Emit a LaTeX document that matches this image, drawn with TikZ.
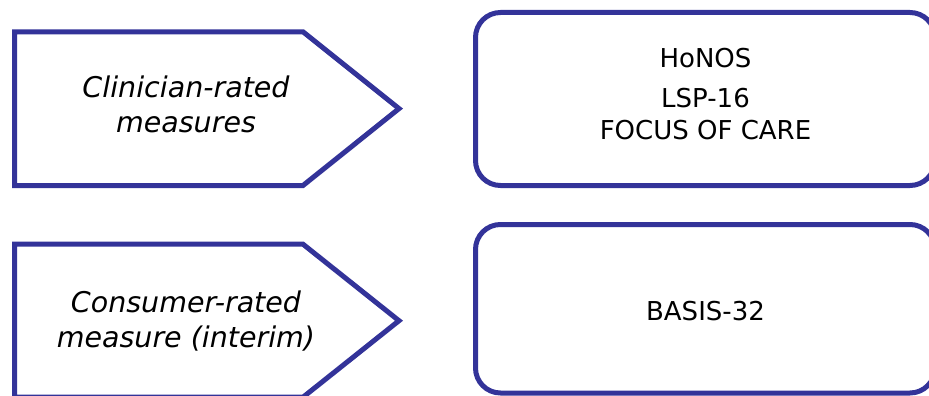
\documentclass[tikz,border=0pt]{standalone}
\usepackage{fontspec}
\setmainfont{DejaVu Sans}
\definecolor{frameblue}{HTML}{333399}
\begin{document}
\begin{tikzpicture}[x=1pt,y=-1pt,
  frame/.style={draw=frameblue, line width=5pt, fill=white, line join=miter},
  roundbox/.style={frame, rounded corners=25pt},
  catlabel/.style={font=\fontsize{28.5}{35}\selectfont\itshape, align=center, anchor=base, inner sep=0pt},
  itemlabel/.style={font=\fontsize{26}{32}\selectfont, anchor=base, inner sep=0pt}]
\useasboundingbox (0,0) rectangle (929,396);
\clip (0,0) rectangle (929,396);

% category arrows
\draw[frame] (14.5,31.8) -- (303,31.8) -- (399,108.6) -- (303,185.5) -- (14.5,185.5) -- cycle;
\draw[frame] (14.5,244.2) -- (303,244.2) -- (399,320.7) -- (303,397.2) -- (14.5,397.2) -- cycle;

% instrument boxes
\draw[roundbox] (475.5,12.5) rectangle (935,185.5);
\draw[roundbox] (475.5,224.5) rectangle (935,393);

% category labels (base anchor sits on the last line)
\node[catlabel] (clin) at (186,132) {Clinician-rated\\measures};
\node[catlabel] (cons) at (186,347) {Consumer-rated\\measure (interim)};

% instrument names
\node[itemlabel] (honos) at (705.5,67) {HoNOS};
\node[itemlabel] (lsp) at (705.5,107) {LSP-16};
\node[itemlabel] (focus) at (705.5,139) {FOCUS OF CARE};
\node[itemlabel] (basis) at (705.5,320) {BASIS-32};
\end{tikzpicture}
\end{document}
